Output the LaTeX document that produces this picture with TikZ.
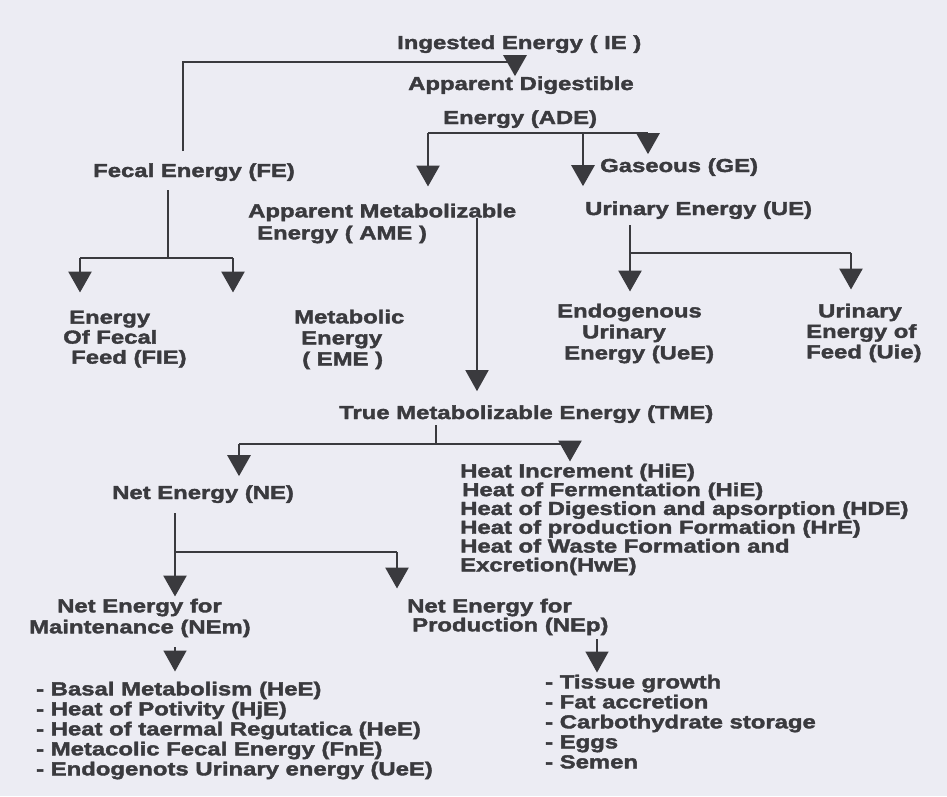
\documentclass[tikz,border=0pt]{standalone}
\usepackage{fontspec}
\newfontfamily\diagfont{Liberation Sans}[FakeStretch=1.27, FakeBold=2]
\usetikzlibrary{arrows.meta}
\definecolor{paper}{RGB}{236,236,243}
\definecolor{ink}{RGB}{58,58,62}
\tikzset{
  lbl/.style={font=\diagfont\bfseries\fontsize{18.8}{#1}\selectfont, text=ink, inner sep=0pt, align=left},
  lbl/.default=20.5,
  wire/.style={draw=ink, line width=2.8pt},
  thinwire/.style={draw=ink, line width=1.6pt},
  arrowed/.style={-{Triangle[length=21pt,width=23pt]}}
}
\begin{document}
\begin{tikzpicture}[x=1pt,y=-1pt]
\useasboundingbox (0,0) rectangle (947,796);
\fill[paper] (0,0) rectangle (947,796);

% labels
\node[lbl, anchor=base west] (IE) at (397,49) {Ingested Energy ( IE )};
\node[lbl, anchor=base west] (ADa) at (408,90) {Apparent Digestible};
\node[lbl, anchor=base west] (ADE) at (443,124) {Energy (ADE)};
\node[lbl, anchor=base west] (FE) at (93,177) {Fecal Energy (FE)};
\node[lbl, anchor=base west] (GE) at (600,172) {Gaseous (GE)};
\node[lbl=22, anchor=north west] (AME) at (248,203.5) {Apparent Metabolizable\\\hspace*{9pt}Energy ( AME )};
\node[lbl, anchor=base west] (UE) at (585,215) {Urinary Energy (UE)};
\node[lbl=20, anchor=north west] (FIE) at (63,310.5) {\hspace*{6pt}Energy\\Of Fecal\\\hspace*{8pt}Feed (FIE)};
\node[lbl=21, anchor=north west] (EME) at (294,309.5) {Metabolic\\\hspace*{7pt}Energy\\\hspace*{8pt}( EME )};
\node[lbl=21, anchor=north west] (UeE) at (557,303.5) {Endogenous\\\hspace*{25pt}Urinary\\\hspace*{7pt}Energy (UeE)};
\node[lbl=20.5, anchor=north west] (Uie) at (806,303.5) {\hspace*{12pt}Urinary\\Energy of\\Feed (Uie)};
\node[lbl, anchor=base west] (TME) at (339,419) {True Metabolizable Energy (TME)};
\node[lbl, anchor=base west] (NE) at (112,499) {Net Energy (NE)};
\node[lbl=18.8, anchor=north west] (HEAT) at (460,463.5) {Heat Increment (HiE)\\\hspace*{2pt}Heat of Fermentation (HiE)\\Heat of Digestion and apsorption (HDE)\\Heat of production Formation (HrE)\\Heat of Waste Formation and\\Excretion(HwE)};
\node[lbl=21, anchor=north west] (NEm) at (29,598.5) {\hspace*{28pt}Net Energy for\\Maintenance (NEm)};
\node[lbl=19, anchor=north west] (NEp) at (407,598.5) {Net Energy for\\\hspace*{5pt}Production (NEp)};
\node[lbl=20, anchor=north west] (ML) at (36,681.5) {- Basal Metabolism (HeE)\\- Heat of Potivity (HjE)\\- Heat of taermal Regutatica (HeE)\\- Metacolic Fecal Energy (FnE)\\- Endogenots Urinary energy (UeE)};
\node[lbl=20, anchor=north west] (PL) at (545,674.5) {- Tissue growth\\- Fat accretion\\- Carbothydrate storage\\- Eggs\\- Semen};

% junctions and free ends
\coordinate (ieL) at (183,62);
\coordinate (ieR) at (515,62);
\coordinate (adL) at (428,133);
\coordinate (adM) at (583,133);
\coordinate (adR) at (648,133);
\coordinate (feJ) at (168,258);
\coordinate (feL) at (80,258);
\coordinate (feR) at (233,258);
\coordinate (ueJ) at (630,253);
\coordinate (ueR) at (851,253);
\coordinate (ameOut) at (477,218);
\coordinate (tmJ) at (436,444);
\coordinate (tmL) at (239,444);
\coordinate (tmR) at (570,444);
\coordinate (neJ) at (175,552);
\coordinate (neR) at (397,552);
\coordinate (nepCol) at (597,640);

% ingested energy split
\draw[wire] ([yshift=12pt]FE.north -| ieL) -- (ieL) -- (ieR);
\draw[wire, arrowed] (ieR) -- (ADa.north -| ieR);

% digestible energy split
\draw[wire] (adL) -- (adR);
\draw[wire, arrowed] (adL) -- ([yshift=17pt]AME.north -| adL);
\draw[wire, arrowed] (adM) -- ([yshift=15pt]UE.north -| adM);
\draw[wire, arrowed] (adR) -- ([yshift=4pt]GE.north -| adR);

% fecal energy split
\draw[thinwire] ([yshift=-9pt]FE.south -| feJ) -- (feJ);
\draw[wire] (feL) -- (feR);
\draw[wire, arrowed] (feL) -- ([yshift=18pt]FIE.north -| feL);
\draw[wire, arrowed] (feR) -- ([yshift=17pt]EME.north -| feR);

% urinary energy split
\draw[thinwire] ([yshift=-6pt]UE.south -| ueJ) -- (ueJ);
\draw[wire, arrowed] (ueJ) -- ([yshift=12pt]UeE.north -| ueJ);
\draw[wire] (ueJ) -- (ueR);
\draw[wire, arrowed] (ueR) -- ([yshift=14pt]Uie.north -| ueR);

% metabolizable energy
\draw[thinwire, arrowed] (ameOut) -- ([yshift=14pt]TME.north -| ameOut);

% true metabolizable energy split
\draw[thinwire] ([yshift=-2pt]TME.south -| tmJ) -- (tmJ);
\draw[wire] (tmL) -- (tmR);
\draw[wire, arrowed] (tmL) -- ([yshift=9pt]NE.north -| tmL);
\draw[wire, arrowed] (tmR) -- ([yshift=2pt]HEAT.north -| tmR);

% net energy split
\draw[wire, arrowed] ([yshift=-10pt]NE.south -| neJ) -- ([yshift=2pt]NEm.north -| neJ);
\draw[wire] (neJ) -- (neR);
\draw[wire, arrowed] (neR) -- ([yshift=10pt]NEp.north -| neR);

% uses of net energy
\draw[thinwire, arrowed] ([yshift=-10pt]NEm.south -| neJ) -- ([yshift=10pt]ML.north -| neJ);
\draw[thinwire, arrowed] ([yshift=-4pt]NEp.south -| nepCol) -- ([yshift=2pt]PL.north -| nepCol);
\end{tikzpicture}
\end{document}
